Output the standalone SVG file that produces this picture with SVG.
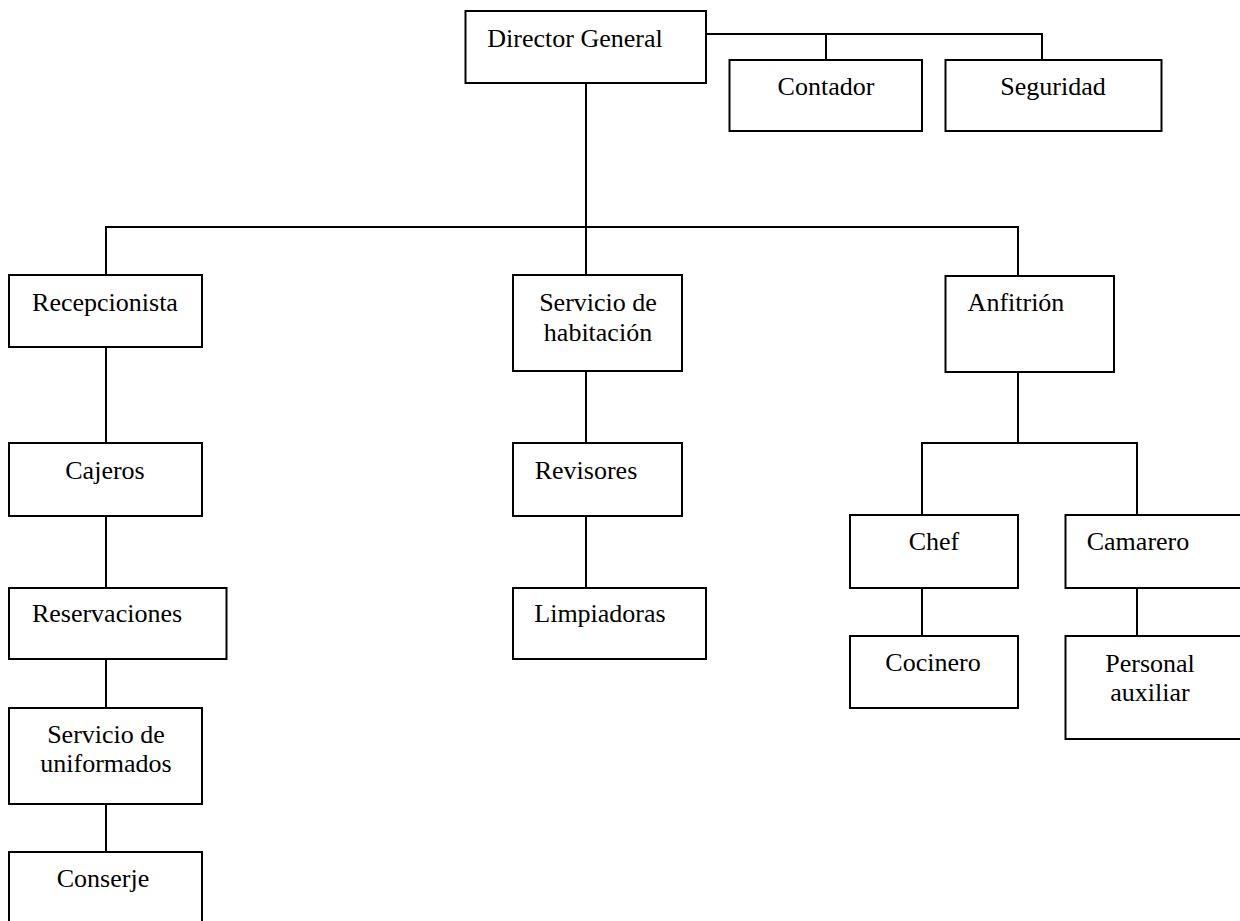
<svg xmlns="http://www.w3.org/2000/svg" width="1240" height="921" viewBox="0 0 1240 921">
<style>
.box{fill:#fff;stroke:#000;stroke-width:2}
.conn{fill:none;stroke:#000;stroke-width:2}
text{font-family:"Liberation Serif","Times New Roman",serif;font-size:26px;fill:#000;text-anchor:middle}
</style>
<rect width="1240" height="921" fill="#fff"/>
<g id="connectors" class="conn">
<path d="M706 34 H1042 V60 M826 34 V60"/>
<path d="M586 83 V227 M106 275 V227 H1018 V276 M586 227 V275"/>
<path d="M106 347 V443 M106 516 V588 M106 659 V708 M106 804 V852"/>
<path d="M586 371 V443 M586 516 V588"/>
<path d="M1018 372 V443 M922 515 V443 H1137 V515"/>
<path d="M922 588 V636 M1137 588 V636"/>
</g>
<g id="director"><rect class="box" x="465.5" y="11" width="240.5" height="72"/><text x="575" y="47">Director General</text></g>
<g id="contador"><rect class="box" x="729.5" y="60" width="192.5" height="71"/><text x="826" y="95">Contador</text></g>
<g id="seguridad"><rect class="box" x="945.5" y="60" width="216" height="71"/><text x="1053" y="95">Seguridad</text></g>
<g id="recepcionista"><rect class="box" x="9" y="275" width="193" height="72"/><text x="105" y="311">Recepcionista</text></g>
<g id="servicio-habitacion"><rect class="box" x="513" y="275" width="169" height="96"/><text x="598" y="311">Servicio de</text><text x="598" y="341">habitación</text></g>
<g id="anfitrion"><rect class="box" x="945.5" y="276" width="168.5" height="96"/><text x="1016" y="311">Anfitrión</text></g>
<g id="cajeros"><rect class="box" x="9" y="443" width="193" height="73"/><text x="105" y="479">Cajeros</text></g>
<g id="reservaciones"><rect class="box" x="9" y="588" width="217.5" height="71"/><text x="107" y="622">Reservaciones</text></g>
<g id="servicio-uniformados"><rect class="box" x="9" y="708" width="193" height="96"/><text x="106" y="743">Servicio de</text><text x="106" y="772">uniformados</text></g>
<g id="conserje"><rect class="box" x="9" y="852" width="193" height="80"/><text x="103" y="887">Conserje</text></g>
<g id="revisores"><rect class="box" x="513" y="443" width="169" height="73"/><text x="586" y="479">Revisores</text></g>
<g id="limpiadoras"><rect class="box" x="513" y="588" width="193" height="71"/><text x="600" y="622">Limpiadoras</text></g>
<g id="chef"><rect class="box" x="850" y="515" width="168" height="73"/><text x="934" y="550">Chef</text></g>
<g id="camarero"><rect class="box" x="1065.5" y="515" width="180" height="73"/><text x="1138" y="550">Camarero</text></g>
<g id="cocinero"><rect class="box" x="850" y="636" width="168" height="72"/><text x="933" y="671">Cocinero</text></g>
<g id="personal-auxiliar"><rect class="box" x="1065.5" y="636" width="180" height="103"/><text x="1150" y="672">Personal</text><text x="1150" y="701">auxiliar</text></g>
</svg>
